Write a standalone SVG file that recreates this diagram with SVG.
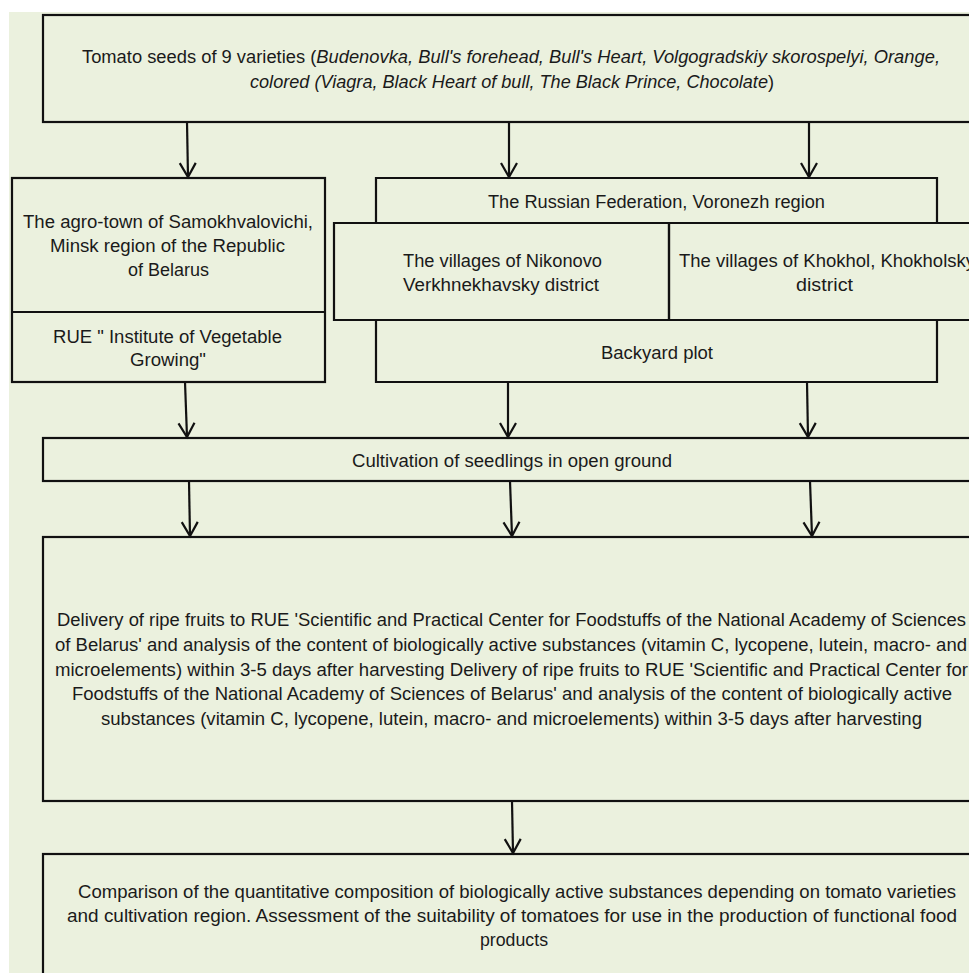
<svg xmlns="http://www.w3.org/2000/svg" width="969" height="973" viewBox="0 0 969 973">
<defs>
<style>
.box{fill:none;stroke:#111;stroke-width:2.2}
.ln{fill:none;stroke:#111;stroke-width:2.2}
.t{font-family:"Liberation Sans",Arial,sans-serif;font-size:17.5px;fill:#1a1a1a}
.i{font-style:italic}
.conn line{stroke:#111;stroke-width:2.2;marker-end:url(#arr)}
</style>
<marker id="arr" markerUnits="userSpaceOnUse" markerWidth="24" markerHeight="24" viewBox="-18 -12 24 24" refX="0" refY="0" orient="auto" overflow="visible">
<path d="M-14,-8 L0,0 L-14,8" fill="none" stroke="#111" stroke-width="2.2"/>
</marker>
</defs>
<rect x="0" y="0" width="969" height="973" fill="#ffffff"/>
<rect x="9" y="12" width="960" height="961" fill="#EBF1DE"/>

<g id="seeds">
<rect class="box" x="43" y="15" width="945" height="107"/>
<text class="t" x="82" y="63" textLength="858" lengthAdjust="spacingAndGlyphs">Tomato seeds of 9 varieties (<tspan class="i">Budenovka, Bull's forehead, Bull's Heart, Volgogradskiy skorospelyi, Orange,</tspan></text>
<text class="t" x="250" y="88" textLength="524" lengthAdjust="spacingAndGlyphs"><tspan class="i">colored (Viagra, Black Heart of bull, The Black Prince, Chocolate</tspan>)</text>
</g>

<g id="belarus">
<rect class="box" x="12" y="178" width="313" height="204"/>
<line class="ln" x1="12" y1="312" x2="325" y2="312"/>
<text class="t" x="23" y="228" textLength="290" lengthAdjust="spacingAndGlyphs">The agro-town of Samokhvalovichi,</text>
<text class="t" x="50" y="252" textLength="235" lengthAdjust="spacingAndGlyphs">Minsk region of the Republic</text>
<text class="t" x="128" y="276" textLength="81" lengthAdjust="spacingAndGlyphs">of Belarus</text>
<text class="t" x="53" y="343" textLength="229" lengthAdjust="spacingAndGlyphs">RUE " Institute of Vegetable</text>
<text class="t" x="130" y="366" textLength="76" lengthAdjust="spacingAndGlyphs">Growing"</text>
</g>

<g id="russia">
<path class="box" d="M376,223 V178 H937 V223"/>
<text class="t" x="488" y="208" textLength="337" lengthAdjust="spacingAndGlyphs">The Russian Federation, Voronezh region</text>
</g>

<g id="nikonovo">
<path class="box" d="M669,223 H334 V320 H669 Z"/>
<text class="t" x="403" y="267" textLength="199" lengthAdjust="spacingAndGlyphs">The villages of Nikonovo</text>
<text class="t" x="403" y="291" textLength="196" lengthAdjust="spacingAndGlyphs">Verkhnekhavsky district</text>
</g>

<g id="khokhol">
<path class="box" d="M988,223 H669 V320 H988"/>
<text class="t" x="679" y="267" textLength="296" lengthAdjust="spacingAndGlyphs">The villages of Khokhol, Khokholsky</text>
<text class="t" x="796" y="291" textLength="57" lengthAdjust="spacingAndGlyphs">district</text>
</g>

<g id="backyard">
<path class="box" d="M376,320 V382 H937 V320"/>
<text class="t" x="601" y="359" textLength="112" lengthAdjust="spacingAndGlyphs">Backyard plot</text>
</g>

<g id="cultivation">
<rect class="box" x="43" y="438" width="945" height="43"/>
<text class="t" x="352" y="467" textLength="320" lengthAdjust="spacingAndGlyphs">Cultivation of seedlings in open ground</text>
</g>

<g id="delivery">
<rect class="box" x="43" y="537" width="945" height="264"/>
<text class="t" x="57" y="626" textLength="909" lengthAdjust="spacingAndGlyphs">Delivery of ripe fruits to RUE 'Scientific and Practical Center for Foodstuffs of the National Academy of Sciences</text>
<text class="t" x="55" y="651" textLength="912" lengthAdjust="spacingAndGlyphs">of Belarus' and analysis of the content of biologically active substances (vitamin C, lycopene, lutein, macro- and</text>
<text class="t" x="55" y="676" textLength="913" lengthAdjust="spacingAndGlyphs">microelements) within 3-5 days after harvesting Delivery of ripe fruits to RUE 'Scientific and Practical Center for</text>
<text class="t" x="72" y="700" textLength="880" lengthAdjust="spacingAndGlyphs">Foodstuffs of the National Academy of Sciences of Belarus' and analysis of the content of biologically active</text>
<text class="t" x="101" y="725" textLength="821" lengthAdjust="spacingAndGlyphs">substances (vitamin C, lycopene, lutein, macro- and microelements) within 3-5 days after harvesting</text>
</g>

<g id="comparison">
<rect class="box" x="43" y="854" width="945" height="140"/>
<text class="t" x="78" y="898" textLength="878" lengthAdjust="spacingAndGlyphs">Comparison of the quantitative composition of biologically active substances depending on tomato varieties</text>
<text class="t" x="67" y="922" textLength="890" lengthAdjust="spacingAndGlyphs">and cultivation region. Assessment of the suitability of tomatoes for use in the production of functional food</text>
<text class="t" x="480" y="946" textLength="68" lengthAdjust="spacingAndGlyphs">products</text>
</g>

<g id="connectors" class="conn">
<line x1="187" y1="122" x2="188" y2="177"/>
<line x1="509" y1="122" x2="509" y2="177"/>
<line x1="809" y1="122" x2="809" y2="177"/>
<line x1="185" y1="382" x2="187" y2="437"/>
<line x1="508" y1="382" x2="508" y2="437"/>
<line x1="807" y1="382" x2="808" y2="437"/>
<line x1="189" y1="481" x2="190" y2="536"/>
<line x1="510" y1="481" x2="512" y2="536"/>
<line x1="810" y1="481" x2="812" y2="536"/>
<line x1="512" y1="801" x2="513" y2="853"/>
</g>
</svg>
